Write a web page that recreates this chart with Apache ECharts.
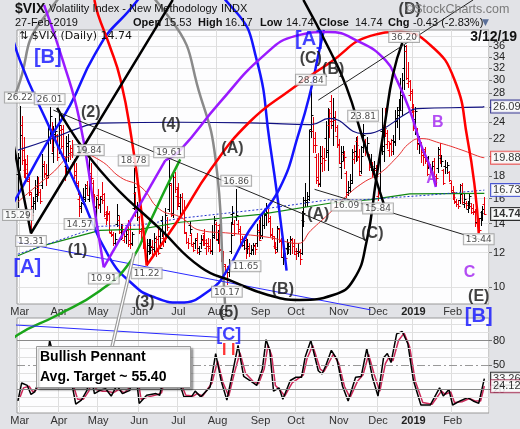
<!DOCTYPE html>
<html><head><meta charset="utf-8">
<script src="https://cdn.jsdelivr.net/npm/echarts@6/dist/echarts.min.js"></script>
<style>html,body{margin:0;padding:0;background:#e2e3e7}#c{width:520px;height:429px}</style>
</head><body><div id="c"></div>
<script>
// ---------- DATA ----------
const holidays = ['2018-03-30','2018-05-28','2018-07-04','2018-09-03','2018-11-22','2018-12-05','2018-12-25','2019-01-01','2019-01-21','2019-02-18'];
const MONTHS = ['Jan','Feb','Mar','Apr','May','Jun','Jul','Aug','Sep','Oct','Nov','Dec'];

const opens = [18.2,
 19.9,23.6,20.7,18.6,19.2,17.6,16.4,15.4,15.6,16.2,16.9,16.6,17.2,19.2,18.3,18.1,23.2,23.1,20.4,22.6,22.4,
 21.0,23.0,23.2,19.6,19.0,21.2,20.4,20.9,19.4,18.1,17.2,16.0,15.4,15.9,16.1,17.2,16.0,18.3,17.4,16.0,15.3,
 16.3,15.5,16.2,16.4,14.4,14.9,14.8,13.3,13.2,12.6,14.0,14.3,13.6,13.6,12.8,13.1,13.5,12.8,12.6,15.2,16.5,14.9,
 14.5,13.6,12.9,12.4,11.7,12.5,12.6,12.4,12.2,12.7,12.9,13.1,14.3,13.0,12.8,14.0,15.1,17.2,14.8,17.9,16.2,
 17.0,15.4,16.1,15.0,13.3,12.7,13.9,13.2,12.4,12.6,13.0,12.3,12.6,12.8,13.3,12.3,12.6,12.4,12.1,13.2,14.0,
 12.9,13.9,12.2,11.8,11.2,10.9,10.8,12.1,14.7,14.0,14.5,14.0,13.6,12.9,12.5,13.0,12.3,12.3,12.0,12.2,12.4,12.6,13.5,
 13.4,13.1,13.9,14.7,14.8,14.4,13.2,13.0,12.4,12.2,13.6,12.8,11.7,11.7,12.3,12.2,12.4,12.8,12.6,
 11.9,12.1,12.1,12.0,14.3,15.9,15.9,16.2,23.2,22.9,22.1,19.9,17.9,17.3,19.3,19.8,22.1,20.5,23.6,26.9,23.7,24.3,22.3,
 21.4,18.9,20.5,20.3,18.3,16.6,17.0,17.7,19.7,20.6,21.7,20.1,18.5,21.0,21.6,21.0,20.1,19.4,19.0,18.7,18.6,
 16.2,16.9,22.9,20.6,23.6,21.4,20.7,21.4,21.8,21.7,24.1,25.0,26.0,27.7,32.0,35.0,29.5,27.7,28.0,
 26.0,24.4,23.0,21.5,21.4,20.2,20.8,19.6,19.9,19.0,18.8,19.5,17.6,18.8,20.2,19.8,18.6,19.0,18.9,18.4,17.4,
 16.7,16.5,15.8,15.5,15.9,17.2,15.5,15.6,15.1,15.6,15.4,15.2,15.0,14.1,14.3,14.4,14.9,15.53];
const highs = [20.4,
 26.22,24.8,22.2,19.7,20.2,17.9,16.6,16.1,17.7,18.0,17.9,16.8,20.3,19.5,19.2,23.9,26.01,24.0,23.5,24.6,22.6,
 25.3,23.6,23.7,19.9,22.3,22.6,21.3,21.8,19.7,19.3,17.6,16.3,15.7,16.9,17.3,17.6,19.84,19.3,17.7,16.4,16.1,
 16.8,16.2,17.5,16.5,15.0,15.4,15.0,13.5,13.4,13.3,15.5,14.6,14.0,14.0,13.3,13.6,14.3,14.1,13.4,18.78,16.6,15.7,
 14.6,13.7,13.1,12.5,12.9,12.9,12.9,12.8,13.3,13.1,13.6,13.7,14.6,13.3,15.2,14.5,19.61,17.4,18.2,18.4,17.0,
 17.4,16.4,16.5,15.9,13.4,13.0,14.2,13.3,12.7,13.0,13.3,12.4,13.2,13.2,13.6,12.9,13.0,12.9,13.9,14.6,14.1,
 13.5,14.0,12.4,12.1,11.3,11.2,11.6,14.1,15.4,14.3,16.86,14.3,13.8,13.1,13.0,13.2,12.9,12.6,12.5,12.6,12.6,14.0,14.3,
 14.5,14.7,15.1,15.6,15.1,14.6,13.7,13.1,12.7,13.8,13.7,13.0,12.1,12.0,12.9,12.7,13.1,13.0,12.9,
 12.3,12.6,12.2,15.0,16.1,17.4,16.6,23.0,28.84,24.7,22.8,20.3,20.4,21.2,21.2,20.9,24.2,25.9,25.7,27.7,27.3,25.5,23.7,
 21.9,21.1,21.1,20.6,18.5,17.6,18.2,20.8,21.3,22.2,22.3,20.8,21.1,23.81,21.9,22.2,20.3,20.3,19.4,19.5,19.1,
 17.0,21.0,25.9,24.0,25.9,23.0,21.6,22.0,22.4,25.6,26.0,27.2,30.4,31.2,36.20,36.1,33.0,30.1,28.6,
 26.5,26.0,23.3,22.3,21.6,20.6,21.0,19.7,20.1,19.2,19.5,19.8,18.2,21.0,21.5,20.2,18.7,19.6,19.4,18.5,17.6,
 17.1,16.6,16.0,15.9,17.3,17.4,16.4,15.8,15.8,16.5,15.6,15.5,15.1,15.0,14.4,15.0,15.4,16.17];
const lows = [15.29,
 18.6,19.2,17.9,17.8,17.6,16.3,13.31,14.9,15.1,15.8,16.3,15.6,16.9,17.9,17.2,17.9,21.5,20.6,19.4,21.8,19.6,
 20.4,20.9,19.8,17.7,18.3,19.5,19.7,19.9,17.8,17.2,16.4,14.57,14.9,15.5,15.8,16.3,15.8,17.2,16.1,15.3,14.6,
 15.2,14.9,15.6,14.6,14.0,14.3,13.4,13.1,12.5,12.4,13.8,13.3,12.9,13.0,12.7,12.6,12.4,12.3,12.5,15.1,14.6,14.3,
 13.3,12.6,12.3,11.6,11.22,11.9,12.0,11.7,11.9,11.8,11.9,12.3,13.1,12.4,12.7,13.5,15.0,14.6,14.5,16.6,15.1,
 15.4,14.7,14.8,13.3,12.6,12.3,13.3,12.5,12.1,12.3,12.0,11.9,12.3,12.5,12.5,11.9,12.1,12.0,11.9,13.0,12.8,
 12.6,12.1,11.5,11.2,10.7,10.17,10.6,12.0,14.0,13.2,14.3,13.3,12.5,12.4,12.2,11.65,12.0,11.8,11.9,11.9,11.9,12.4,12.8,
 13.0,13.0,13.7,13.9,14.1,13.1,12.9,12.3,12.0,12.1,12.7,11.7,11.3,11.1,11.9,12.0,11.9,12.0,11.9,
 11.6,11.8,11.3,11.9,13.8,15.4,15.4,15.9,22.2,20.5,20.5,17.4,17.1,17.1,18.5,18.6,19.9,18.6,22.2,23.3,21.3,22.9,21.0,
 19.3,17.8,19.6,18.8,16.09,16.3,16.6,17.4,19.3,19.5,19.6,18.1,18.3,20.5,20.2,20.4,18.6,18.6,18.0,18.3,17.7,
 15.84,16.5,20.3,19.5,22.3,20.9,20.1,20.2,20.3,21.3,23.4,21.9,25.6,24.9,28.7,30.2,28.9,27.0,25.4,
 23.0,22.5,20.8,20.4,19.4,19.1,19.3,18.1,18.8,18.4,18.3,17.9,17.2,18.4,19.3,19.0,17.3,18.3,18.3,17.6,16.5,
 16.0,15.6,15.4,15.2,15.6,15.6,15.3,15.2,14.9,15.2,14.8,14.7,13.8,13.8,13.44,13.9,14.3,14.74];
const closes = [19.85,
 22.47,19.59,18.73,18.36,17.76,16.54,14.64,15.78,16.35,17.23,16.59,15.80,19.02,18.20,17.86,23.34,24.87,21.03,22.50,22.87,19.97,
 23.62,21.10,20.06,18.94,21.49,21.77,20.47,20.24,18.49,17.41,16.56,15.25,15.60,15.96,16.88,16.34,18.02,17.84,16.24,15.41,15.93,
 15.49,15.97,15.90,14.77,14.75,14.71,13.42,13.23,12.65,12.93,14.63,13.42,13.43,13.42,13.08,13.22,12.58,12.53,13.22,17.02,14.94,15.43,
 13.46,12.74,12.40,11.64,12.13,12.18,12.35,12.34,12.94,12.12,11.98,12.31,13.35,12.79,14.64,13.77,17.33,14.64,17.91,16.85,16.09,
 15.60,16.14,14.97,13.37,12.69,12.64,13.63,12.58,12.18,12.83,12.06,12.10,12.87,12.86,12.62,12.41,12.29,12.14,13.03,14.26,12.83,
 13.15,12.19,11.64,11.27,10.93,10.85,11.27,13.16,14.78,13.31,14.64,13.45,12.64,12.49,12.86,12.25,12.41,11.99,12.16,12.50,12.25,13.53,12.86,
 13.16,13.91,14.65,14.88,14.16,13.22,13.14,12.37,12.07,13.68,12.79,11.75,11.80,11.68,12.20,12.42,12.89,12.41,12.12,
 12.00,12.05,11.61,14.22,14.82,15.69,15.95,22.96,24.98,21.31,21.30,17.62,17.40,20.06,19.89,19.64,20.71,25.23,24.22,24.16,24.70,23.35,21.23,
 19.34,19.51,19.96,19.91,16.36,16.72,17.36,20.45,20.02,21.25,19.98,18.14,20.10,22.48,20.80,21.52,18.90,19.02,18.49,18.79,18.07,
 16.44,20.74,21.19,23.23,22.64,21.76,21.46,20.65,21.63,24.52,25.58,25.58,28.38,30.11,36.07,30.41,29.96,28.34,25.42,
 23.22,25.45,21.38,21.40,20.47,19.98,19.50,18.19,19.07,18.60,19.04,18.06,17.80,20.80,19.52,19.52,17.42,18.87,19.13,17.66,16.57,
 16.14,15.73,15.57,15.38,16.37,15.72,15.97,15.43,15.65,16.22,14.91,14.88,14.02,14.46,13.51,14.85,15.17,14.74];

// overlays: [bar index, value]
const ma50Red = [[0,15.7],[17,18.1],[33,20.3],[44,19.6],[55,17.9],[66,17.0],[76,15.1],[87,14.5],[98,13.5],[114,13.3],[135,13.0],[150,12.6],[157,13.5],[167,14.8],[176,16.2],[185,17.4],[194,18.3],[203,19.9],[210,21.5],[216,22.0],[226,21.5],[238,20.7],[248,19.95],[250,19.88]];
const navyLine = [[0,20.7],[17,21.9],[33,23.3],[44,23.9],[87,24.0],[129,23.9],[157,23.7],[167,24.5],[185,22.6],[194,23.0],[208,25.1],[214,25.8],[248,26.0],[250,26.09]];
const greenLine = [[0,11.8],[12,12.4],[44,13.5],[66,13.6],[87,14.1],[130,14.7],[167,15.6],[189,15.9],[210,16.4],[250,16.45]];
const blueDotted = [[0,11.9],[44,13.8],[66,13.9],[87,14.4],[130,15.1],[167,15.9],[185,15.9],[203,16.1],[221,16.3],[248,16.7],[250,16.73]];

// stochastic panel
const stochK = [[0,6],[2,28],[5,25],[7,14],[9,17],[12,35],[13,55],[15,45],[17,80],[19,62],[22,70],[25,40],[28,38],[31,2],[34,7],[37,19],[39,40],[41,15],[44,19],[47,21],[50,12],[53,25],[56,15],[60,19],[62,55],[63,45],[65,3],[69,13],[74,15],[76,13],[78,35],[80,70],[82,72],[84,50],[87,25],[89,11],[93,11],[95,18],[98,11],[103,23],[106,64],[109,30],[112,7],[115,40],[118,74],[121,36],[125,30],[128,25],[131,45],[133,81],[135,68],[137,18],[140,22],[142,8],[146,31],[149,35],[152,35],[154,60],[157,80],[161,43],[163,39],[165,49],[168,68],[171,57],[174,24],[177,6],[181,35],[184,36],[187,70],[190,35],[193,12],[196,59],[198,64],[200,53],[201,55],[203,88],[206,91],[207,93],[209,76],[212,31],[216,1],[221,1],[226,22],[228,12],[231,20],[233,1],[237,6],[241,10],[244,6],[247,3],[250,33.26]];
const stochD = [[1,10],[3,22],[6,24],[8,17],[10,20],[13,38],[14,48],[16,55],[18,70],[20,68],[23,65],[26,45],[29,30],[32,8],[35,8],[38,18],[40,35],[42,20],[45,18],[48,18],[51,16],[54,20],[57,16],[61,25],[63,45],[64,38],[66,8],[70,11],[75,14],[77,16],[79,38],[81,62],[83,68],[85,48],[88,24],[90,13],[94,12],[96,15],[99,12],[104,28],[107,55],[110,28],[113,12],[116,40],[119,65],[122,40],[126,30],[129,27],[132,45],[134,74],[136,62],[138,25],[141,18],[143,12],[147,28],[150,33],[153,38],[155,58],[158,74],[162,45],[164,42],[166,50],[169,63],[172,52],[175,24],[178,10],[182,30],[185,38],[188,63],[191,38],[194,18],[197,52],[199,60],[201,55],[204,80],[207,89],[208,88],[210,72],[213,30],[217,4],[222,2],[227,18],[229,14],[232,17],[234,4],[238,5],[242,9],[245,6],[248,6],[250,24.12]];

// annotation drawings, anchors in [bar index, value]
const blackU = [[21,25.9],[44,18.6],[77,13.5],[98,11.1],[115,10.3],[134,9.58],[151,9.33],[169,9.58],[180,10.4],[187,12.8],[192,17.7],[197,24.3],[201,30.9],[206,36.6]];
const blackV = [[-9,29.7],[7,13.3],[83,46]];
const blackC = [[153,46],[167,35.3],[176,29.0],[185,21.9],[196,15.6]];
const thin1 = [[19,25.6],[187,12.8]];
const thin2 = [[159,16.8],[252,12.7]];
const thin3 = [[161,27.0],[244,46]];
const redBig = [[69,11.22],[87,14.5],[103,18.6],[124,24.0],[146,28.5],[167,32.9],[189,38.0],[205,38.8],[221,36.2],[234,30.1],[241,21.9],[245,16.8],[247,13.3]];
const redLeft = [[41,46],[43,42.5],[49,36.2],[55,30.1],[61,21.9],[66,15.1],[69,11.2]];
const purpleLeft = [[14,44.8],[24,33.4],[33,24.3],[41,15.1],[46,11.1]];
const purpleStraight = [[46,11.1],[79,19.6]];
const purpleArc = [[79,19.6],[87,20.7],[108,26.6],[132,34.3],[149,38],[166,38.8],[183,36.8],[197,33.4],[203,30.1],[210,25.6],[216,21.3],[221,18.9],[224,17.0]];
const greenArc = [[-9,7.1],[0,7.75],[21,8.6],[44,9.8],[60,11.4],[71,14.2],[79,16.8],[87,19.7]];
const blueArc1 = [[-5,41.4],[1,33.4],[17,23.3],[33,16.5],[49,11.7],[62,10.1],[72,9.5],[87,9.2],[103,9.84],[112,10.9],[124,13.5],[140,16.8],[151,23.0],[157,28.5],[161,34.3],[164,39.2]];
const blueArc2 = [[-9,13.9],[0,16.3],[15,21.3],[28,26.3],[41,34.3],[55,41.4],[86,53],[116,43.6],[128,33.4],[135,21.5],[140,15.1],[144,10.9]];
const blueThin = [[-9,12.9],[189,8.85]];
const grayArc = [[-9,23.0],[0,28.9],[13,41.4],[47,53],[82,41.4],[98,27.4],[106,19.6],[110,10.8],[111,9.13]];

const highLabels = [[1,26.22],[17,26.01],[38,19.84],[62,18.78],[81,19.61],[117,16.86],[157,28.84],[185,23.81],[207,36.20]];
const lowLabels = [[0,15.29],[7,13.31],[33,14.57],[46,10.91],[69,11.22],[112,10.17],[122,11.65],[176,16.09],[193,15.84],[247,13.44]];

const blackWaves = [[32,12.1,'(1)'],[39,25.3,'(2)'],[68,9.2,'(3)'],[82,23.7,'(4)'],[113,8.74,'(5)'],[115,20.9,'(A)'],[142,9.84,'(B)'],[157,33.6,'(C)'],[169,31.7,'(B)'],[161,14.7,'(A)'],[190,13.3,'(C)'],[210,43.6,'(D)'],[247,9.5,'(E)']];
const blueWaves = [[16,33.9,'[B]'],[5,11.1,'[A]'],[156,37.2,'[A]'],[247,8.55,'[B]']];
const purpleWaves = [[222,17.8,'A'],[225,23.9,'B'],[242,10.8,'C']];

const mainTicks = [10,12,14,16,18,20,22,24,26,28,30,32,34,36,38];
const mainLabels = [10,12,14,16,18,22,24,28,30,32,34,36,38];

// ---------- BUILD ----------
const dates = [];
for (let t = Date.UTC(2018,1,28); t <= Date.UTC(2019,2,1); t += 86400000) {
  const d = new Date(t), w = d.getUTCDay(), s = d.toISOString().slice(0,10);
  if (w === 0 || w === 6 || holidays.indexOf(s) >= 0) continue;
  dates.push(s);
}
const nBars = closes.length;
const monthStart = dates.map((d,i) => i > 0 && i < nBars && d.slice(0,7) !== dates[i-1].slice(0,7));
const ohlc = closes.map((c,i) => [i, opens[i], highs[i], lows[i], c]);
const upDown = closes.map((c,i) => i === 0 ? c >= opens[i] : c >= closes[i-1]);

const F = '"Liberation Sans", Arial, sans-serif';

function renderBar(params, api) {
  const i = api.value(0);
  const pH = api.coord([i, api.value(2)]);
  const pL = api.coord([i, api.value(3)]);
  const pO = api.coord([i, api.value(1)]);
  const pC = api.coord([i, api.value(4)]);
  const x = Math.round(pH[0]) + 0.5;
  const yo = Math.round(pO[1]) + 0.5, yc = Math.round(pC[1]) + 0.5;
  const st = {stroke: upDown[params.dataIndex] ? '#000' : '#e8000b', lineWidth: 1};
  return {type: 'group', children: [
    {type: 'line', shape: {x1: x, y1: Math.round(pH[1]), x2: x, y2: Math.round(pL[1]) + 1}, style: st},
    {type: 'line', shape: {x1: x - 2, y1: yo, x2: x, y2: yo}, style: st},
    {type: 'line', shape: {x1: x, y1: yc, x2: x + 2, y2: yc}, style: st}
  ]};
}
function draw(data, color, width, smooth, extra) {
  return Object.assign({type: 'line', data: data, xAxisIndex: 0, yAxisIndex: 0, smooth: smooth, symbol: 'none',
    clip: false, silent: true, z: 5, lineStyle: {color: color, width: width}}, extra || {});
}
function waveSeries(list, color, size) {
  return {type: 'scatter', xAxisIndex: 0, yAxisIndex: 0, symbolSize: 0, clip: false, silent: true, z: 7,
    data: list.map(r => ({value: [r[0], r[1]], label: {formatter: r[2]}})),
    label: {show: true, position: 'inside', color: color, fontSize: size, fontWeight: 'bold', fontFamily: F}};
}
function priceBoxes(list, pos) {
  return {type: 'scatter', xAxisIndex: 0, yAxisIndex: 0, symbolSize: 0, clip: false, silent: true, z: 8,
    data: list.map(r => [r[0], r[1]]),
    label: {show: true, position: pos, distance: 3, formatter: p => p.value[1].toFixed(2),
      fontSize: 9, fontFamily: '"DejaVu Sans", sans-serif', color: '#222', backgroundColor: '#fff',
      borderColor: '#999', borderWidth: 1, padding: [1, 2, 0, 2]}};
}
function tag(xa, ya, val, border, bold) {
  return {type: 'scatter', xAxisIndex: xa, yAxisIndex: ya, symbolSize: 0, clip: false, silent: true, z: 9,
    data: [[nBars + 1, val]],
    label: {show: true, position: 'right', distance: 3, formatter: p => p.value[1].toFixed(2),
      fontSize: 11, fontWeight: bold ? 'bold' : 'normal', fontFamily: F, color: '#000', backgroundColor: '#fff',
      borderColor: border, borderWidth: 1, padding: [1, 2, 0, 2]}};
}
function txt(x, y, s, font, extra) {
  return {type: 'text', x: x, y: y, z: 50, style: Object.assign({text: s, font: font, fill: '#111', verticalAlign: 'middle'}, extra || {})};
}
const xCommon = {type: 'category', data: dates, boundaryGap: true,
  axisLine: {show: false}, axisTick: {show: false},
  axisLabel: {interval: i => monthStart[i], fontSize: 11, color: '#333', fontFamily: F, margin: 2,
    formatter: v => { const m = +v.slice(5,7); return m === 1 ? '{y|' + v.slice(0,4) + '}' : MONTHS[m-1]; },
    rich: {y: {fontWeight: 'bold', fontSize: 11, fontFamily: F, color: '#222'}}},
  splitLine: {show: true, interval: i => monthStart[i], lineStyle: {color: '#dedede'}}};

const chart = echarts.init(document.getElementById('c'), null, {renderer: 'canvas'});
chart.setOption({
  animation: false,
  backgroundColor: '#e2e3e7',
  grid: [
    {left: 17, right: 31, top: 30, height: 274, show: true, backgroundColor: '#fdfdfe', borderColor: '#999', borderWidth: 1},
    {left: 17, right: 31, top: 318, height: 95, show: true, backgroundColor: '#fdfdfe', borderColor: '#999', borderWidth: 1}
  ],
  xAxis: [Object.assign({gridIndex: 0}, xCommon), Object.assign({gridIndex: 1}, xCommon)],
  yAxis: [
    {type: 'log', logBase: 10, gridIndex: 0, position: 'right', min: 9.13, max: 39.2,
      axisLine: {show: false},
      axisTick: {show: true, length: 3, lineStyle: {color: '#777'}, customValues: mainTicks},
      axisLabel: {customValues: mainLabels, fontSize: 11, color: '#222', fontFamily: F, margin: 4},
      splitLine: {show: true, lineStyle: {color: '#e2e2e2'}}},
    {type: 'value', gridIndex: 1, position: 'right', min: -8.75, max: 107.5,
      axisLine: {show: false},
      axisTick: {show: true, length: 3, lineStyle: {color: '#777'}, customValues: [20, 50, 80]},
      axisLabel: {customValues: [20, 50, 80], fontSize: 11, color: '#222', fontFamily: F, margin: 4},
      splitLine: {show: false}}
  ],
  series: [
    {type: 'custom', xAxisIndex: 0, yAxisIndex: 0, renderItem: renderBar, data: ohlc, encode: {x: 0, y: [1,2,3,4]}, z: 3, silent: true},
    draw(greenLine, '#118811', 1.2, false, {z: 4}),
    draw(blueDotted, '#2233cc', 1, false, {z: 4, lineStyle: {color: '#2233cc', width: 1, type: [2, 2]}}),
    draw(ma50Red, '#e83030', 1, true, {z: 4}),
    draw(navyLine, '#101080', 1.2, true, {z: 4}),
    draw(grayArc, '#8a8a8a', 2.5, true),
    draw(blueArc2, '#1414ff', 2.5, true),
    draw(blueArc1, '#1414ff', 2.5, true),
    draw(blueThin, '#2a2aff', 1, false),
    draw(greenArc, '#1aa51a', 2.5, true),
    draw(redLeft, '#ff0000', 2.5, true),
    draw(redBig, '#ff0000', 2.5, true),
    draw(purpleLeft, '#9a1aff', 2.5, true),
    draw(purpleStraight, '#9a1aff', 2.5, false),
    draw(purpleArc, '#9a1aff', 2.5, true),
    draw(blackV, '#000', 2.5, false),
    draw(blackU, '#000', 2.5, true),
    draw(blackC, '#000', 2.5, true),
    draw(thin1, '#222', 1, false),
    draw(thin2, '#222', 1, false),
    draw(thin3, '#222', 1, false),
    waveSeries(blackWaves, '#111', 16),
    waveSeries(blueWaves, '#1010ff', 20),
    waveSeries(purpleWaves, '#a020f0', 16),
    priceBoxes(highLabels, 'top'),
    priceBoxes(lowLabels, 'bottom'),
    tag(0, 0, 26.09, '#101080', false),
    tag(0, 0, 19.88, '#e83030', false),
    tag(0, 0, 16.73, '#2233cc', false),
    tag(0, 0, 14.74, '#000', true),
    // lower panel
    {type: 'line', xAxisIndex: 1, yAxisIndex: 1, data: stochD, symbol: 'none', silent: true, z: 3,
      lineStyle: {color: '#cc2a5a', width: 1.5},
      markLine: {silent: true, symbol: 'none', label: {show: false}, animation: false,
        data: [0,10,30,40,60,70,90,100].map(v => ({yAxis: v, lineStyle: {color: '#e0e0e0', width: 1, type: 'solid'}}))
          .concat([{yAxis: 80, lineStyle: {color: '#8a8a8a', width: 1, type: 'solid'}},
                   {yAxis: 20, lineStyle: {color: '#8a8a8a', width: 1, type: 'solid'}},
                   {yAxis: 50, lineStyle: {color: '#999', width: 1, type: [8, 3, 2, 3]}}])}},
    {type: 'line', xAxisIndex: 1, yAxisIndex: 1, data: stochK, symbol: 'none', silent: true, z: 4,
      lineStyle: {color: '#000', width: 1.5}},
    {type: 'line', xAxisIndex: 1, yAxisIndex: 1, data: [[-9, 100], [107, 84]], symbol: 'none', silent: true, z: 5, clip: false,
      lineStyle: {color: '#2a2aff', width: 1}},
    {type: 'scatter', xAxisIndex: 1, yAxisIndex: 1, symbolSize: 0, clip: false, silent: true, z: 7,
      data: [{value: [113, 87], label: {formatter: '[C]', color: '#1010ff', fontSize: 18}},
             {value: [113, 68], label: {formatter: 'I I', color: '#ff0000', fontSize: 16}}],
      label: {show: true, position: 'inside', fontWeight: 'bold', fontFamily: F}},
    tag(1, 1, 33.26, '#000', false),
    tag(1, 1, 24.12, '#a0204a', false)
  ],
  graphic: [
    txt(15, 9, '$VIX', 'bold 14px ' + F),
    txt(49, 9, 'Volatility Index - New Methodology', '11px ' + F),
    txt(221, 9, 'INDX', '11px ' + F),
    txt(15, 23, '27-Feb-2019', '11px ' + F),
    txt(133, 23, 'Open', 'bold 11px ' + F), txt(164, 23, '15.53', '11px ' + F),
    txt(198, 23, 'High', 'bold 11px ' + F), txt(225, 23, '16.17', '11px ' + F),
    txt(260, 23, 'Low', 'bold 11px ' + F), txt(286, 23, '14.74', '11px ' + F),
    txt(319, 23, 'Close', 'bold 11px ' + F), txt(355, 23, '14.74', '11px ' + F),
    txt(388, 23, 'Chg', 'bold 11px ' + F), txt(413, 23, '-0.43 (-2.83%)', '11px ' + F),
    txt(482, 23, '▼', '9px "DejaVu Sans"', {fill: '#5a6f99'}),
    txt(405, 10, '©StockCharts.com', '12.5px ' + F, {fill: '#7a7a7a'}),
    txt(19, 36, '⇅ $VIX (Daily) 14.74', '11px "DejaVu Sans"'),
    txt(517, 37, '3/12/19', 'bold 14px ' + F, {align: 'right'}),
    {type: 'line', z: 60, shape: {x1: 112, y1: 347, x2: 134, y2: 253}, style: {stroke: '#9a9a9a', lineWidth: 3.5}},
    {type: 'line', z: 61, shape: {x1: 112, y1: 347, x2: 134, y2: 253}, style: {stroke: '#fff', lineWidth: 1.2}},
    {type: 'rect', z: 62, shape: {x: 36.5, y: 346.5, width: 154, height: 41},
      style: {fill: '#fff', stroke: '#9a9a9a', lineWidth: 1, shadowBlur: 2, shadowColor: 'rgba(0,0,0,0.35)', shadowOffsetX: 2, shadowOffsetY: 2}},
    {type: 'text', z: 63, x: 40, y: 357, style: {text: 'Bullish Pennant', font: 'bold 14px ' + F, fill: '#000', verticalAlign: 'middle'}},
    {type: 'text', z: 63, x: 40, y: 377, style: {text: 'Avg. Target ~ 55.40', font: 'bold 14px ' + F, fill: '#000', verticalAlign: 'middle'}}
  ]
});
</script></body></html>
